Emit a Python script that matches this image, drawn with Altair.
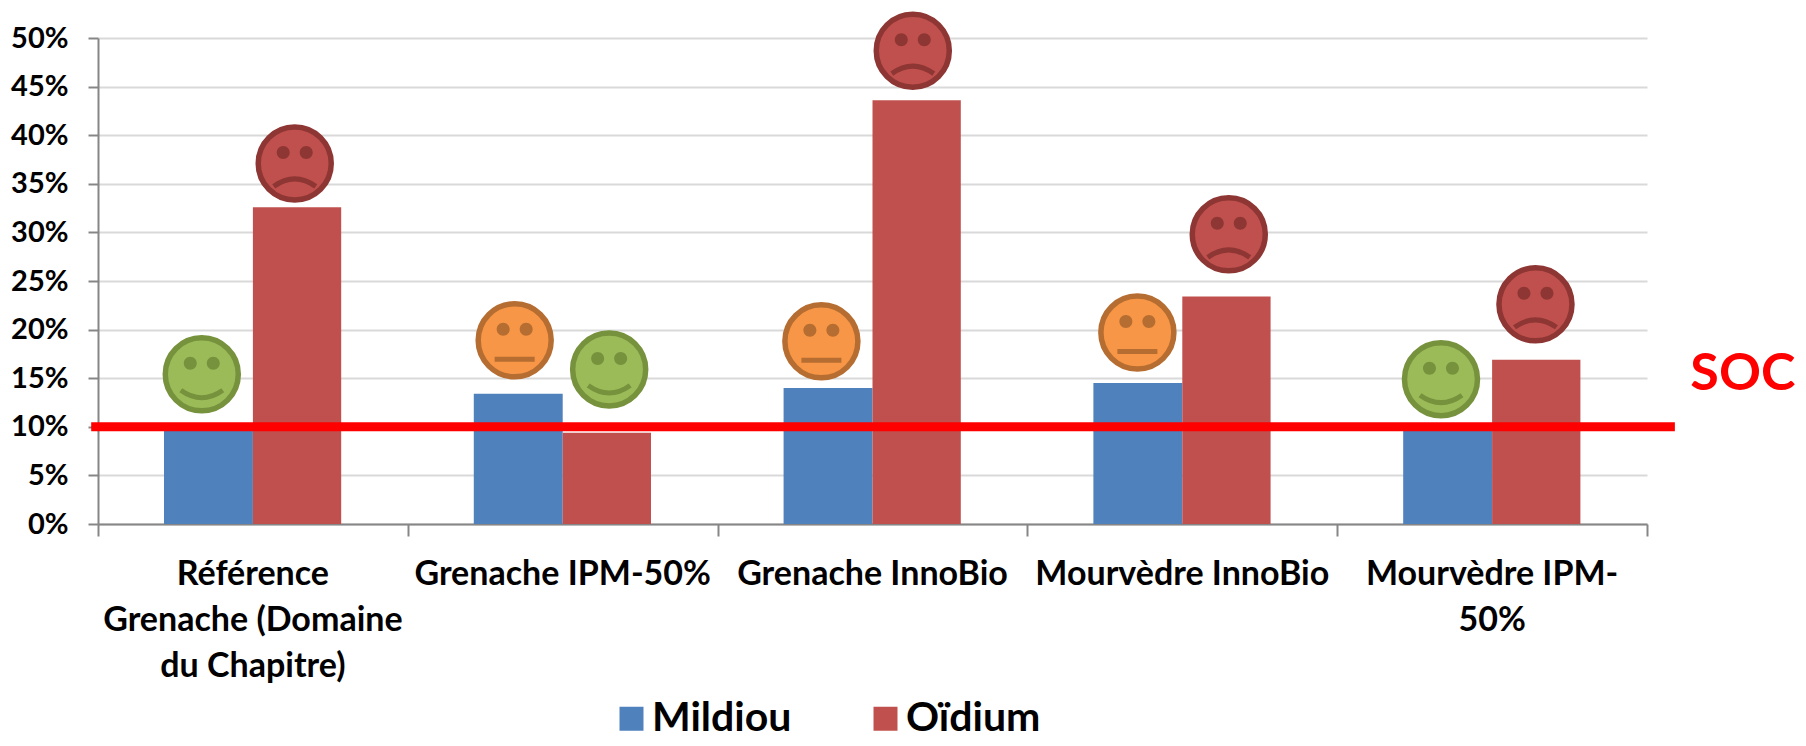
import altair as alt
import pandas as pd

FONT = "Lato"
categories = ["Référence\nGrenache (Domaine\ndu Chapitre)", "Grenache IPM-50%", "Grenache InnoBio", "Mourvèdre InnoBio", "Mourvèdre IPM-\n50%"]
mildiou = [10.0, 13.4, 14.0, 14.5, 10.0]
oidium = [32.6, 9.4, 43.6, 23.4, 16.9]
series_names = ["Mildiou", "Oïdium"]
series_colors = ["#4F81BD", "#C0504D"]
threshold = 10
threshold_label = "SOC"

# faces: position in axis units (category index, percent)
face_x = [0.335, 0.635, 1.345, 1.65, 2.335, 2.63, 3.355, 3.65, 4.335, 4.64]
face_y = [15.4, 37.1, 18.9, 15.9, 18.8, 48.7, 19.7, 29.8, 14.9, 22.6]
face_mood = ["good", "bad", "mid", "good", "mid", "bad", "mid", "bad", "good", "bad"]
mood_fill = {"good": "#9BBB59", "mid": "#F79646", "bad": "#C0504D"}
mood_dark = {"good": "#76923C", "mid": "#B66D31", "bad": "#8E3634"}
mouth_path = {"good": "M-21,16 Q0,31 21,16", "mid": "M-20,19 L20,19", "bad": "M-21,23 Q0,8 21,23"}
eyes_path = "M-18,-11 A6.5,6.5 0 1,1 -5,-11 A6.5,6.5 0 1,1 -18,-11 Z M5,-11 A6.5,6.5 0 1,1 18,-11 A6.5,6.5 0 1,1 5,-11 Z"

moods = list(mood_fill)
rows = []
for i in range(len(categories)):
    rows.append(dict(start=i + 0.213, end=i + 0.5, zero=0, value=mildiou[i], series=series_names[0]))
    rows.append(dict(start=i + 0.5, end=i + 0.785, zero=0, value=oidium[i], series=series_names[1]))
bars_df = pd.DataFrame(rows)
faces_df = pd.DataFrame(dict(
    x=face_x, y=face_y, mood=face_mood,
    fill=[mood_fill[m] for m in face_mood],
    dark=[mood_dark[m] for m in face_mood],
))
labels_df = pd.DataFrame(dict(x=[i + 0.5 for i in range(len(categories))], y=[-3.45] * len(categories), text=categories))

x_scale = alt.Scale(domain=[0, 5], nice=False, zero=False)
y_scale = alt.Scale(domain=[0, 50], nice=False)

bars = alt.Chart(bars_df).mark_bar().encode(
    x=alt.X("start:Q", scale=x_scale, title=None,
            axis=alt.Axis(values=[0, 1, 2, 3, 4, 5], labels=False, grid=False, domainColor="#868686", domainWidth=2,
                          tickColor="#868686", tickWidth=2, tickSize=12)),
    x2="end:Q",
    y=alt.Y("value:Q", scale=y_scale, title=None,
            axis=alt.Axis(values=list(range(0, 55, 5)), labelExpr="datum.value + '%'", grid=True, gridColor="#D9D9D9",
                          gridWidth=2, domainColor="#868686", domainWidth=2, tickColor="#868686", tickWidth=2,
                          tickSize=10, labelPadding=20, labelFont=FONT, labelFontWeight="bold", labelFontSize=29,
                          labelColor="#000000")),
    y2="zero:Q",
    color=alt.Color("series:N", scale=alt.Scale(domain=series_names, range=series_colors), title=None,
                    legend=alt.Legend(orient="none", legendX=513, legendY=660, direction="horizontal", symbolType="square",
                                      symbolSize=576, symbolStrokeWidth=0, labelFont=FONT, labelFontWeight="bold",
                                      labelFontSize=41, labelLimit=500, labelColor="#000000", columnPadding=73, labelOffset=0,
                                      symbolOpacity=1)),
)

rule = alt.Chart(pd.DataFrame(dict(a=[-0.022], b=[5.09], y=[threshold]))).mark_rule(color="#FF0000", strokeWidth=9).encode(
    x=alt.X("a:Q", scale=x_scale), x2="b:Q", y=alt.Y("y:Q", scale=y_scale))

soc = alt.Chart(pd.DataFrame(dict(x=[5.14], y=[15.4], t=[threshold_label]))).mark_text(
    color="#FF0000", font=FONT, fontWeight="bold", fontSize=52, align="left", baseline="middle").encode(
    x=alt.X("x:Q", scale=x_scale), y=alt.Y("y:Q", scale=y_scale), text="t:N")

cat_labels = alt.Chart(labels_df).mark_text(
    font=FONT, fontWeight="bold", fontSize=34, align="center", baseline="top", lineBreak="\n", lineHeight=46, color="#000000").encode(
    x=alt.X("x:Q", scale=x_scale), y=alt.Y("y:Q", scale=y_scale), text="text:N")

enc = dict(x=alt.X("x:Q", scale=x_scale), y=alt.Y("y:Q", scale=y_scale))
heads = alt.Chart(faces_df).mark_point(shape="circle", size=5329, opacity=1, strokeWidth=5.5, filled=False).encode(
    fill=alt.Fill("fill:N", scale=None), stroke=alt.Stroke("dark:N", scale=None), **enc)
eyes = alt.Chart(faces_df).mark_point(shape=eyes_path, size=4, opacity=1, strokeWidth=0, filled=True).encode(
    fill=alt.Fill("dark:N", scale=None), **enc)
mouths = [
    alt.Chart(faces_df[faces_df["mood"] == m]).mark_point(shape=mouth_path[m], size=4, opacity=1, strokeWidth=5, filled=False, fill="transparent").encode(
        stroke=alt.Stroke("dark:N", scale=None), **enc)
    for m in moods
]

chart = alt.layer(bars, rule, soc, cat_labels, heads, eyes, *mouths).properties(
    width=1549, height=486,
    padding={"left": 90, "top": 30, "right": 149, "bottom": 214},
    autosize=alt.AutoSizeParams(type="none"),
    background="#FFFFFF",
).configure_view(stroke=None)

chart.save("out.html", embed_options={"renderer": "svg", "actions": False})
